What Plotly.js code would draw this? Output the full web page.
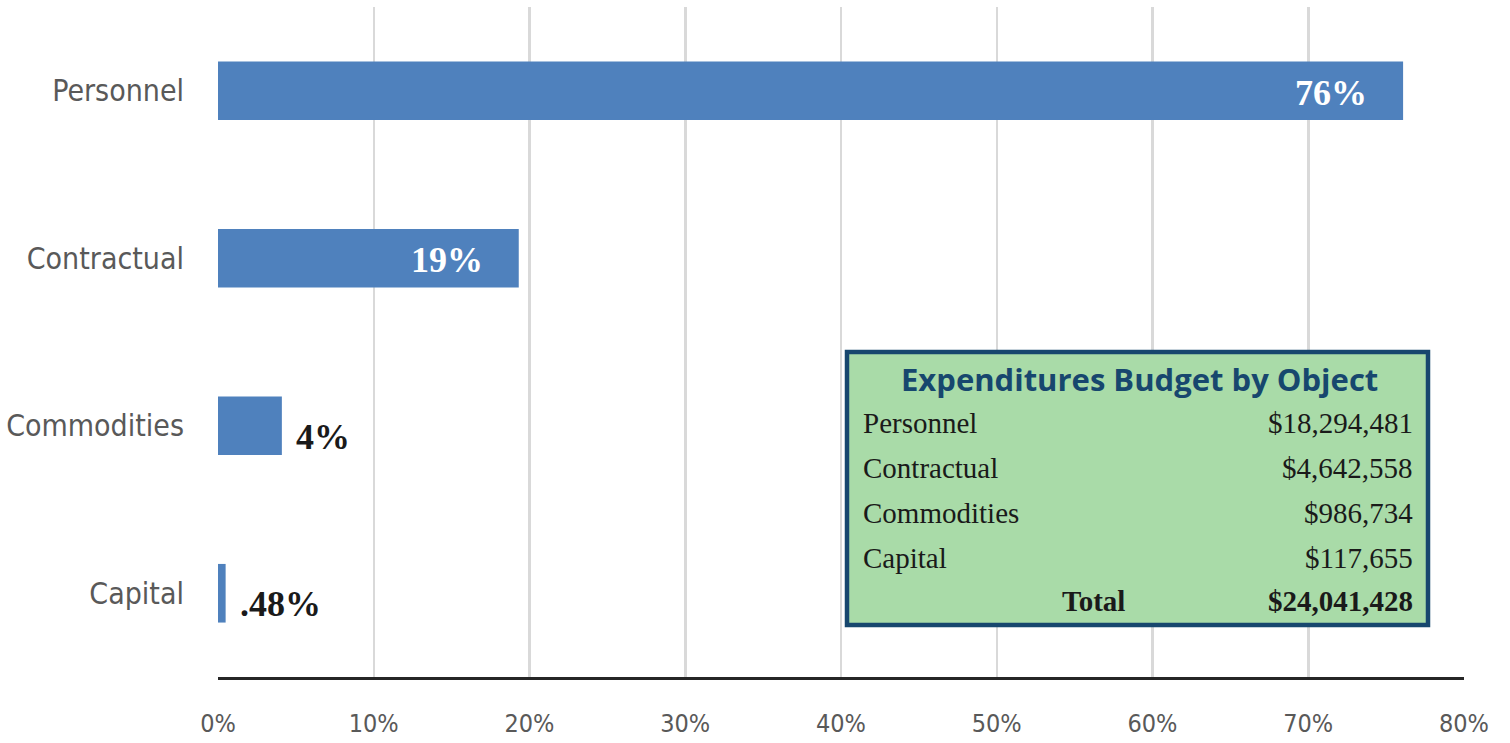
<!DOCTYPE html>
<html>
<head>
<meta charset="utf-8">
<script src="https://cdn.plot.ly/plotly-3.0.1.min.js"></script>
<style>html,body{margin:0;padding:0;background:#fff;}#chart{width:1510px;height:743px;}</style>
</head>
<body>
<div id="chart"></div>
<script>
const categories = ["Personnel", "Contractual", "Commodities", "Capital"];
const shares = [0.7609, 0.1931, 0.0410, 0.0049];
const barLabels = ["76%", "19%", "4%", ".48%"];
const labelInside = [true, true, false, false];
const tableTitle = "Expenditures Budget by Object";
const tableLabels = ["Personnel", "Contractual", "Commodities", "Capital"];
const tableValues = ["$18,294,481", "$4,642,558", "$986,734", "$117,655"];
const totalLabel = "Total";
const totalValue = "$24,041,428";
const xTickVals = [0, 0.1, 0.2, 0.3, 0.4, 0.5, 0.6, 0.7, 0.8];
const xTickText = ["0%", "10%", "20%", "30%", "40%", "50%", "60%", "70%", "80%"];

const W = 1510, H = 743;
const mL = 218, mR = 46, mT = 7, mB = 66;
const pw = W - mL - mR, ph = H - mT - mB;
const px = x => (x - mL) / pw;
const py = y => (H - mB - y) / ph;

const SANS = 'DejaVu Sans Condensed, sans-serif';
const SERIF = 'Liberation Serif, serif';

const annotations = [];
categories.forEach((c, i) => {
  const inside = labelInside[i];
  annotations.push({
    x: shares[i], y: c, xref: 'x', yref: 'y',
    text: barLabels[i], showarrow: false,
    xanchor: inside ? 'right' : 'left',
    xshift: inside ? -34 : 12, yshift: inside ? -2 : -11,
    font: {family: SERIF, size: 36, color: inside ? '#ffffff' : '#1a1a1a', weight: 'bold'}
  });
});

annotations.push({
  x: px(1139), y: py(379), xref: 'paper', yref: 'paper', text: '<b>' + tableTitle + '</b>',
  showarrow: false, xanchor: 'center', yanchor: 'middle',
  font: {family: 'Open Sans, sans-serif', size: 31, color: '#17476e'}
});
const rowY = [423, 468, 513, 558];
tableLabels.forEach((l, i) => {
  annotations.push({x: px(861), y: py(rowY[i]), xref: 'paper', yref: 'paper', text: l, showarrow: false,
    xanchor: 'left', yanchor: 'middle', font: {family: SERIF, size: 29, color: '#1a1a1a'}});
  annotations.push({x: px(1415), y: py(rowY[i]), xref: 'paper', yref: 'paper', text: tableValues[i], showarrow: false,
    xanchor: 'right', yanchor: 'middle', font: {family: SERIF, size: 29, color: '#1a1a1a'}});
});
annotations.push({x: px(1093), y: py(601), xref: 'paper', yref: 'paper', text: '<b>' + totalLabel + '</b>', showarrow: false,
  xanchor: 'center', yanchor: 'middle', font: {family: SERIF, size: 29, color: '#1a1a1a'}});
annotations.push({x: px(1415), y: py(601), xref: 'paper', yref: 'paper', text: '<b>' + totalValue + '</b>', showarrow: false,
  xanchor: 'right', yanchor: 'middle', font: {family: SERIF, size: 29, color: '#1a1a1a'}});

const data = [{
  type: 'bar', orientation: 'h', x: shares, y: categories,
  marker: {color: '#4f81bd', line: {width: 0}}, width: 0.35, hoverinfo: 'skip'
}];

const layout = {
  width: W, height: H,
  margin: {l: mL, r: mR, t: mT, b: mB, pad: 0},
  paper_bgcolor: '#ffffff', plot_bgcolor: '#ffffff',
  showlegend: false,
  xaxis: {
    range: [0, 0.8], tickvals: xTickVals, ticktext: xTickText,
    showgrid: true, gridcolor: '#d9d9d9', gridwidth: 2.5, zeroline: false,
    showline: true, linecolor: '#262626', linewidth: 2.5,
    ticks: 'outside', ticklen: 22, tickcolor: 'rgba(0,0,0,0)',
    tickfont: {family: SANS, size: 25, color: '#595959'}, fixedrange: true
  },
  yaxis: {
    categoryorder: 'array', categoryarray: categories, autorange: false,
    range: [3.5, -0.5], showgrid: false, zeroline: false, showline: false,
    ticks: 'outside', ticklen: 27, tickcolor: 'rgba(0,0,0,0)',
    tickfont: {family: SANS, size: 30, color: '#595959'}, fixedrange: true
  },
  shapes: [{
    type: 'rect', xref: 'paper', yref: 'paper',
    x0: px(847), x1: px(1428), y0: py(352), y1: py(625),
    fillcolor: '#a9dba8', line: {color: '#17476e', width: 4.5}, layer: 'above'
  }],
  annotations: annotations
};

Plotly.newPlot('chart', data, layout, {displayModeBar: false, staticPlot: true});
</script>
</body>
</html>
